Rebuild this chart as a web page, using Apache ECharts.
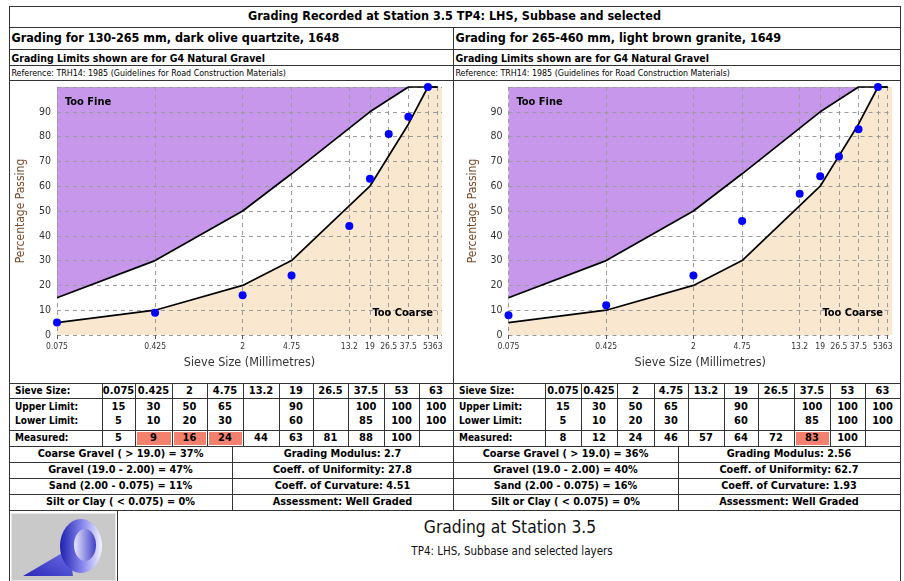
<!DOCTYPE html>
<html><head><meta charset="utf-8">
<script src="https://cdn.jsdelivr.net/npm/echarts@6/dist/echarts.min.js"></script>
<style>
html,body{margin:0;padding:0;background:#fff;}
#page{position:relative;width:904px;height:581px;overflow:hidden;font-family:'DejaVu Sans Condensed','DejaVu Sans',sans-serif;color:#000;}
.ln{position:absolute;background:#333;}
.t{position:absolute;white-space:nowrap;}
</style></head><body>
<div id="page"><div id="chart" style="position:absolute;left:0;top:0;width:904px;height:581px;z-index:2;"></div></div>
<script>
// ---------------- data ----------------
const sieveSizes   = [0.075, 0.425, 2, 4.75, 13.2, 19, 26.5, 37.5, 53, 63];
const upperLimit   = [15, 30, 50, 65, null, 90, null, 100, 100, 100];
const lowerLimit   = [5, 10, 20, 30, null, 60, null, 85, 100, 100];
const measuredA    = [5, 9, 16, 24, 44, 63, 81, 88, 100, null];
const measuredB    = [8, 12, 24, 46, 57, 64, 72, 83, 100, null];
const pageTitle    = 'Grading Recorded at Station 3.5 TP4: LHS, Subbase and selected';
const sampleTitles = ['Grading for 130-265 mm, dark olive quartzite, 1648', 'Grading for 265-460 mm, light brown granite, 1649'];
const limitsNote   = 'Grading Limits shown are for G4 Natural Gravel';
const referenceNote= 'Reference: TRH14: 1985 (Guidelines for Road Construction Materials)';
const rowLabels    = ['Sieve Size:', 'Upper Limit:', 'Lower Limit:', 'Measured:'];
const fractionsA   = ['Coarse Gravel ( > 19.0) = 37%', 'Gravel (19.0 - 2.00) = 47%', 'Sand (2.00 - 0.075) = 11%', 'Silt or Clay ( < 0.075) = 0%'];
const fractionsB   = ['Coarse Gravel ( > 19.0) = 36%', 'Gravel (19.0 - 2.00) = 40%', 'Sand (2.00 - 0.075) = 16%', 'Silt or Clay ( < 0.075) = 0%'];
const statsA       = ['Grading Modulus: 2.7', 'Coeff. of Uniformity: 27.8', 'Coeff. of Curvature: 4.51', 'Assessment: Well Graded'];
const statsB       = ['Grading Modulus: 2.56', 'Coeff. of Uniformity: 62.7', 'Coeff. of Curvature: 1.93', 'Assessment: Well Graded'];
const footerTitle  = 'Grading at Station 3.5';
const footerSub    = 'TP4: LHS, Subbase and selected layers';
const yAxisName    = 'Percentage Passing';
const xAxisName    = 'Sieve Size (Millimetres)';
const zoneLabels   = ['Too Fine', 'Too Coarse'];

// ---------------- layout helpers ----------------
const FONT = "'DejaVu Sans Condensed','DejaVu Sans',sans-serif";
const page = document.getElementById('page');
function el(cls, css, txt){ const d=document.createElement('div'); d.className=cls; Object.assign(d.style, css); if(txt!=null) d.textContent=txt; page.appendChild(d); return d; }
function hl(x1,x2,y){ el('ln',{left:x1+'px',top:y+'px',width:(x2-x1+1)+'px',height:'1px'}); }
function vl(x,y1,y2){ el('ln',{left:x+'px',top:y1+'px',width:'1px',height:(y2-y1+1)+'px'}); }
function txt(s, x, yc, o){
  o=o||{}; const h=20;
  const css={top:(yc-h/2)+'px',height:h+'px',lineHeight:h+'px',fontSize:(o.size||11)+'px',fontWeight:o.bold?'bold':'normal',color:o.color||'#000'};
  if(o.align==='center'){ css.left=(x-400)+'px'; css.width='800px'; css.textAlign='center'; }
  else { css.left=x+'px'; }
  return el('t',css,s);
}

// outer frame & header
const X0=9, X1=900, XM=453;
vl(X0,6,581); vl(X1,6,581); hl(X0,X1,6); hl(X0,X1,27);
txt(pageTitle,(X0+X1)/2,16,{bold:true,size:12.5,align:'center'});
vl(XM,27,510);
[49,65,80,383,398,430,446,462,478,494,510].forEach(y=>hl(X0,X1,y));

const LS=10, VS=11, SS=10.8;
const cols = [
  {x:X0, title:sampleTitles[0], measured:measuredA, fr:fractionsA, st:statsA,
   bounds:[X0,102,135,172,207,243,279,313,348,384,419,XM], mid:232},
  {x:XM, title:sampleTitles[1], measured:measuredB, fr:fractionsB, st:statsB,
   bounds:[XM,545,581,617,654,688,724,758,794,830,865,X1], mid:678}
];
cols.forEach(c=>{
  txt(c.title, c.x+2.5, 38, {bold:true,size:12.5});
  txt(limitsNote, c.x+2.5, 57.5, {bold:true,size:10.5});
  txt(referenceNote, c.x+2.5, 72.5, {size:8.8});
  const b=c.bounds;
  for(let k=1;k<b.length-1;k++){ vl(b[k],383,446); }
  const rowsY=[390.5,406.5,421,438];
  rowLabels.forEach((r,i)=>txt(r,b[0]+6,rowsY[i],{bold:true,size:LS}));
  sieveSizes.forEach((s,j)=>{
    const cx=(b[j+1]+b[j+2])/2;
    txt(String(s),cx,rowsY[0],{bold:true,size:VS,align:'center'});
    if(upperLimit[j]!=null) txt(String(upperLimit[j]),cx,rowsY[1],{bold:true,size:VS,align:'center'});
    if(lowerLimit[j]!=null) txt(String(lowerLimit[j]),cx,rowsY[2],{bold:true,size:VS,align:'center'});
    const m=c.measured[j];
    if(m!=null){
      const out = (lowerLimit[j]!=null && m<lowerLimit[j]) || (upperLimit[j]!=null && m>upperLimit[j]);
      if(out) el('t',{left:(b[j+1]+2)+'px',top:'432px',width:(b[j+2]-b[j+1]-3)+'px',height:'13px',background:'#f4806e'});
      txt(String(m),cx,rowsY[3],{bold:true,size:VS,align:'center'});
    }
  });
  vl(c.mid,446,510);
  const sy=[454,470,486,502];
  c.fr.forEach((s,i)=>txt(s,(b[0]+c.mid)/2,sy[i],{bold:true,size:SS,align:'center'}));
  c.st.forEach((s,i)=>txt(s,(c.mid+b[b.length-1])/2,sy[i],{bold:true,size:SS,align:'center'}));
});

// footer
vl(117,510,581);
txt(footerTitle,510,527,{size:17.3,align:'center',color:'#111'});
txt(footerSub,512,551,{size:11.5,align:'center',color:'#111'});
const logo=document.createElement('div');
Object.assign(logo.style,{position:'absolute',left:'11px',top:'513px',width:'105px',height:'68px'});
logo.innerHTML='<svg width="105" height="68" viewBox="0 0 105 68"><defs>'+
 '<linearGradient id="gT" x1="0" y1="1" x2="1" y2="0"><stop offset="0" stop-color="#2a2ab8"/><stop offset="1" stop-color="#7070e8"/></linearGradient>'+
 '<linearGradient id="gR" x1="0" y1="0" x2="1" y2="0"><stop offset="0" stop-color="#2020b0"/><stop offset="0.55" stop-color="#8a8af0"/><stop offset="1" stop-color="#f4f4ff"/></linearGradient>'+
 '<linearGradient id="gI" x1="0" y1="0" x2="1" y2="0"><stop offset="0" stop-color="#e8e8ff"/><stop offset="1" stop-color="#4040c8"/></linearGradient>'+
 '</defs><rect x="0" y="0" width="105" height="68" fill="#c9c9c9"/>'+
 '<rect x="0.5" y="0.5" width="104" height="67" fill="none" stroke="#e6e6e6"/>'+
 '<polygon points="12,63 62,63 58,36" fill="url(#gT)"/>'+
 '<ellipse cx="70" cy="33" rx="21" ry="27" fill="url(#gR)"/>'+
 '<ellipse cx="74" cy="32" rx="11" ry="16" fill="url(#gI)"/></svg>';
page.appendChild(logo);

// ---------------- chart ----------------
const chart = echarts.init(document.getElementById('chart'));
const xMax = 68;
const PURPLE='#c797ec', BEIGE='#f9e8cf';
const grids=[{left:57,top:87,width:385,height:248},{left:508.5,top:87,width:383.5,height:248}];
function pairs(ys){ return sieveSizes.map((x,i)=>[x,ys[i]]).filter(p=>p[1]!=null); }
function fmtSieve(v){ let best=sieveSizes[0]; sieveSizes.forEach(s=>{ if(Math.abs(Math.log(s)-Math.log(v))<Math.abs(Math.log(best)-Math.log(v))) best=s; }); return String(best); }
const dash={type:[4,4],color:'#9a9a9a',width:1};
const series=[]; const graphic=[];
[measuredA,measuredB].forEach((meas,i)=>{
  const ax={xAxisIndex:i,yAxisIndex:i};
  series.push({type:'line',...ax,data:pairs(upperLimit),symbol:'none',silent:true,lineStyle:{width:0},areaStyle:{color:'#ffffff',opacity:1},z:1});
  series.push({type:'line',...ax,data:pairs(lowerLimit),symbol:'none',silent:true,lineStyle:{width:0},areaStyle:{color:BEIGE,opacity:1},z:2,
    markArea:{silent:true,itemStyle:{color:BEIGE},data:[[{xAxis:sieveSizes[sieveSizes.length-1]},{xAxis:xMax}]]}});
  series.push({type:'line',...ax,data:pairs(upperLimit),symbol:'none',silent:true,clip:false,lineStyle:{color:'#000',width:1.7},z:4});
  series.push({type:'line',...ax,data:pairs(lowerLimit),symbol:'none',silent:true,clip:false,lineStyle:{color:'#000',width:1.7},z:4});
  series.push({type:'scatter',...ax,data:pairs(meas),symbolSize:8,clip:false,itemStyle:{color:'#0000ff',opacity:1},z:5});
  const g=grids[i];
  graphic.push({type:'text',left:g.left+8,top:g.top+10,z:10,style:{text:zoneLabels[0],font:'bold 11px '+FONT,fill:'#000'}});
  graphic.push({type:'text',right:904-(g.left+g.width-9),top:g.top+g.height-27,z:10,style:{text:zoneLabels[1],font:'bold 11px '+FONT,fill:'#000'}});
});
chart.setOption({
  animation:false,
  grid:grids.map(g=>Object.assign({show:true,backgroundColor:PURPLE,borderWidth:0},g)),
  xAxis:[0,1].map(i=>({type:'log',gridIndex:i,logBase:10,min:0.075,max:xMax,z:3,
    name:xAxisName,nameLocation:'middle',nameGap:21,nameTextStyle:{color:'#333',fontSize:12.5,fontFamily:FONT},
    axisLine:{show:false},
    axisTick:{show:true,customValues:sieveSizes,length:4,lineStyle:{color:'#555'}},
    axisLabel:{customValues:sieveSizes,formatter:fmtSieve,fontSize:8.5,color:'#333',margin:7,fontFamily:FONT,hideOverlap:false},
    splitLine:{show:true,lineStyle:dash}})),
  yAxis:[0,1].map(i=>({type:'value',gridIndex:i,min:0,max:100,interval:10,z:3,
    name:yAxisName,nameLocation:'middle',nameGap:30,nameTextStyle:{color:'#7b4b2a',fontSize:12,fontFamily:FONT},
    axisLine:{show:false},axisTick:{show:false},
    axisLabel:{fontSize:10.5,color:'#333',margin:6,fontFamily:FONT,showMaxLabel:false},
    splitLine:{show:true,lineStyle:dash}})),
  series:series,
  graphic:graphic
});
</script></body></html>
